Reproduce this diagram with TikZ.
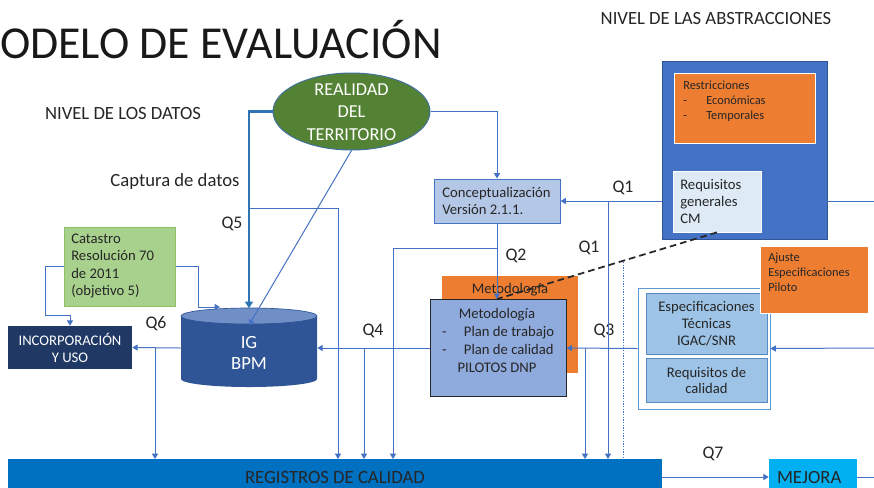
\documentclass[tikz,border=0pt]{standalone}
\usepackage{fontspec}
\setmainfont{Carlito}
\usetikzlibrary{arrows.meta,shapes.geometric}
\definecolor{lnblue}{HTML}{4472C4}
\definecolor{thkblue}{HTML}{2E75B6}
\definecolor{orng}{HTML}{ED7D31}
\definecolor{dgreen}{HTML}{548235}
\definecolor{lgreen}{HTML}{A9D18E}
\definecolor{lgreenb}{HTML}{8CC168}
\definecolor{navy}{HTML}{203864}
\definecolor{cylbody}{HTML}{2F5597}
\definecolor{cyltop}{HTML}{6F8FC6}
\definecolor{concfill}{HTML}{B4C7E7}
\definecolor{metfill}{HTML}{8FAADC}
\definecolor{specfill}{HTML}{9DC3E6}
\definecolor{specdraw}{HTML}{5A8AC6}
\definecolor{grpdraw}{HTML}{5B9BD5}
\definecolor{reqfill}{HTML}{DEEBF7}
\definecolor{regfill}{HTML}{0070C0}
\definecolor{mejfill}{HTML}{00B0F0}
\definecolor{txt}{HTML}{262626}
\definecolor{ellb}{HTML}{41719C}
\begin{document}
\begin{tikzpicture}[x=0.75pt,y=-0.75pt,
  every node/.style={inner sep=0pt, text=txt},
  conn/.style={draw=lnblue, line width=0.75pt},
  arr/.style={conn, -{Triangle[width=4.5pt,length=4pt]}},
  thk/.style={draw=thkblue, line width=1.9pt, -{Triangle[width=6pt,length=5pt]}},
  rbox/.style={rectangle, inner sep=0pt},
  fA/.style={font=\fontsize{11}{12.75}\selectfont},
  fQ/.style={font=\fontsize{13.3}{15}\selectfont},
  fB/.style={font=\fontsize{14}{16.9}\selectfont},
  fS/.style={font=\fontsize{9.3}{11.25}\selectfont}]
\useasboundingbox (0,0) rectangle (874,487);
\fill[white] (0,0) rectangle (874,487);

% titles
\node[anchor=base west, font=\fontsize{34.3}{40}\selectfont, text=black!90] (title) at (0,58) {ODELO DE EVALUACIÓN};
\node[fB] (nabs) at (716,18) {NIVEL DE LAS ABSTRACCIONES};
\node[fB] (ndat) at (123,113) {NIVEL DE LOS DATOS};
\node[fB] (capt) at (175,182) {Captura de datos};

% abstraction block
\node[rbox, fill=lnblue, draw=cylbody, line width=0.5pt, minimum width=123.75pt, minimum height=133.5pt] (abs) at (744.5,150) {};
\node[rbox, fill=orng, draw=white, line width=0.75pt, minimum width=105.75pt, minimum height=52.5pt] (restr) at (744.5,108) {};
\node[fS, anchor=west, align=left] (restrt) at (683,101) {Restricciones\\\makebox[17.25pt][l]{-}Económicas\\\makebox[17.25pt][l]{-}Temporales};
\node[rbox, fill=reqfill, draw=white, line width=0.5pt, minimum width=66pt, minimum height=45.75pt] (reqg) at (717,201.5) {};
\node[fA, anchor=west, align=left] (reqgt) at (680,201) {Requisitos\\generales\\CM};

% reality ellipse
\node[ellipse, fill=dgreen, draw=ellb, line width=0.75pt, minimum width=117.75pt, minimum height=57.75pt] (real) at (351.5,111.5) {};
\node[text=white, align=center, font=\fontsize{13.7}{16.9}\selectfont] (realt) at (351.5,112) {REALIDAD\\DEL\\TERRITORIO};

% conceptualizacion
\node[rbox, fill=concfill, draw=lnblue, line width=0.75pt, minimum width=94.5pt, minimum height=33pt] (conc) at (497,201) {};
\node[fA, anchor=west, align=left] (conct) at (442,201) {Conceptualización\\Versión 2.1.1.};

% catastro
\node[rbox, fill=lgreen, draw=lgreenb, line width=0.75pt, minimum width=83.25pt, minimum height=59.25pt] (cat) at (119.5,266.5) {};
\node[anchor=west, align=left, font=\fontsize{11}{13.1}\selectfont] (catt) at (71,266) {Catastro\\Resolución 70\\de 2011\\(objetivo 5)};

% incorporacion
\node[rbox, fill=navy, minimum width=93pt, minimum height=32.25pt, align=center, text=white, font=\fontsize{11}{12.75}\selectfont] (inc) at (70,347.5) {INCORPORACIÓN\\Y USO};

% cylinder
\fill[cylbody] (181,316) -- (181,379) arc[start angle=180,end angle=360,x radius=51pt,y radius=6pt] -- (317,316) -- cycle;
\filldraw[fill=cyltop, draw=cylbody, line width=0.5pt] (249,316) ellipse[x radius=51pt, y radius=6pt];
\node[rbox, minimum width=102pt, minimum height=59.25pt] (ig) at (249,348) {};
\node[text=white, align=center, font=\fontsize{14}{16}\selectfont] (igt) at (249,353) {IG\\BPM};

% metodologia
\node[rbox, fill=orng, minimum width=102pt, minimum height=72.75pt] (metb) at (510,324.5) {};
\node[fA, anchor=base] (metbt) at (510,293) {Metodología};
\node[rbox, fill=metfill, draw=txt, line width=0.75pt, minimum width=102pt, minimum height=72.75pt] (met) at (498,348) {};
\node[align=center, font=\fontsize{11}{13.5}\selectfont] (mett) at (497,340) {Metodología\\\makebox[82.5pt][l]{\makebox[16.5pt][l]{-}Plan de trabajo}\\\makebox[82.5pt][l]{\makebox[16.5pt][l]{-}Plan de calidad}\\PILOTOS DNP};

% specifications group
\node[rbox, fill=white, draw=grpdraw, line width=0.75pt, minimum width=99pt, minimum height=90.75pt] (grp) at (704,348.5) {};
\node[rbox, fill=specfill, draw=specdraw, line width=0.75pt, minimum width=90.75pt, minimum height=45.75pt, align=center, font=\fontsize{11}{12.75}\selectfont] (spec) at (706.5,323.5) {Especificaciones\\Técnicas\\IGAC/SNR};
\node[rbox, fill=specfill, draw=specdraw, line width=0.75pt, minimum width=90.75pt, minimum height=33pt, align=center, font=\fontsize{11}{12}\selectfont] (reqc) at (706.5,380) {Requisitos de\\calidad};

% ajuste
\node[rbox, fill=orng, draw=white, line width=0.75pt, minimum width=81pt, minimum height=50.25pt] (aj) at (814,279.5) {};
\node[fS, anchor=west, align=left] (ajt) at (768,272) {Ajuste\\Especificaciones\\Piloto};

% registros / mejora
\node[rbox, fill=regfill, minimum width=490.5pt, minimum height=27pt, font=\fontsize{14}{16}\selectfont] (reg) at (335,477) {REGISTROS DE CALIDAD};
\node[rbox, fill=mejfill, minimum width=66pt, minimum height=27pt, text width=54pt, inner xsep=6pt, align=left, font=\fontsize{14}{16}\selectfont] (mej) at (813,477) {MEJORA};

% Q labels
\node[fQ] (q5) at (232,224) {Q5};
\node[fQ] (q6) at (156,324) {Q6};
\node[fQ] (q4) at (373,331) {Q4};
\node[fQ] (q2) at (516,256) {Q2};
\node[fQ] (q1a) at (623,188) {Q1};
\node[fQ] (q1b) at (589,248) {Q1};
\node[fQ] (q3) at (604,331) {Q3};
\node[fQ] (q7) at (713,454) {Q7};

% coordinates
\coordinate (b5) at (249,208);
\coordinate (rin) at (249,325);
\coordinate (r338) at (338,459);
\coordinate (c1) at (45,315);
\coordinate (c2) at (198,307);
\coordinate (c3) at (220,307);
\coordinate (b6) at (155,348);
\coordinate (r155) at (155,459);
\coordinate (b4) at (364,348);
\coordinate (r364) at (364,459);
\coordinate (b2) at (497,248);
\coordinate (r393) at (393,459);
\coordinate (b1) at (608,201);
\coordinate (r608) at (608,459);
\coordinate (d1) at (623,262);
\coordinate (r623) at (623,459);
\coordinate (b3) at (585,348);
\coordinate (r585) at (585,459);
\coordinate (e1) at (874,348);
\coordinate (e2) at (874,201);
\coordinate (e3) at (874,477);

% connectors
\draw[arr] (b5) -| (r338);
\draw[thk] (real.west) -| (ig.north);
\draw[arr] (real.east) -| (conc.north);
\draw[arr] (real.south) -- (rin);
\draw[arr] (cat.west) -| (c1) -| (inc.north);
\draw[arr] (cat.east) -| (c2) -- (c3);
\draw[arr] (ig.west) -- (inc.east);
\draw[arr] (b6) -- (r155);
\draw[arr] (met.west) -- (ig.east);
\draw[arr] (b4) -- (r364);
\draw[arr] (conc.south) -- (conc.south |- met.north);
\draw[arr] (b2) -| (r393);
\draw[arr] (abs.west |- conc.east) -- (conc.east);
\draw[arr] (b1) -- (r608);
\draw[black!85, line width=1.3pt, dash pattern=on 5pt off 3pt] (reqg.south) -- (conc.south |- met.north);
\draw[draw=lnblue, line width=0.5pt, dash pattern=on 1pt off 1pt] (d1) -- (r623);
\draw[arr] (grp.west) -- (met.east);
\draw[arr] (b3) -- (r585);
\draw[arr] (e1) -- (grp.east);
\draw[conn] (abs.east |- conc.east) -- (e2);
\draw[arr] (reg.east) -- (mej.west);
\draw[conn] (mej.east) -- (e3);
\end{tikzpicture}
\end{document}
